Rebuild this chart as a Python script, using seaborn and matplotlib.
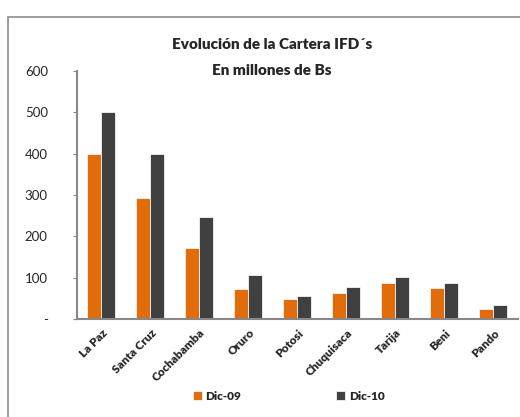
import pandas as pd
import matplotlib.pyplot as plt
import seaborn as sns
from matplotlib.patches import Rectangle

# data (millones de Bs)
departamentos = ['La Paz', 'Santa Cruz', 'Cochabamba', 'Oruro', 'Potosi',
                 'Chuquisaca', 'Tarija', 'Beni', 'Pando']
dic09 = [400, 293, 171, 72, 48, 62, 87, 74, 24]
dic10 = [501, 400, 247, 107, 55, 77, 102, 87, 33]
periodos = ['Dic-09', 'Dic-10']
colores = ['#E36C0A', '#404040']

df = pd.DataFrame({'Departamento': departamentos * 2,
                   'Periodo': [periodos[0]] * 9 + [periodos[1]] * 9,
                   'Valor': dic09 + dic10})

sns.set_style('white')
plt.rcParams['font.family'] = ['Lato', 'DejaVu Sans']

fig = plt.figure(figsize=(5.2, 4.17), dpi=100)
ax = fig.add_axes([0.148, 0.235, 0.848, 0.595])

sns.barplot(data=df, x='Departamento', y='Valor', hue='Periodo',
            palette=colores, saturation=1, width=0.57, edgecolor='#f4f4f4',
            linewidth=0.6, ax=ax)

ax.set_ylim(0, 600)
ax.set_yticks([0, 100, 200, 300, 400, 500, 600])
ax.set_yticklabels(['-', '100', '200', '300', '400', '500', '600'], fontsize=9.5)
ax.set_xlim(-0.5, 8.5)
ax.set_xlabel('')
ax.set_ylabel('')
plt.setp(ax.get_xticklabels(), rotation=45, ha='right', rotation_mode='anchor',
         fontsize=8.5, fontweight='heavy')
ax.tick_params(axis='x', length=0, pad=6)
ax.tick_params(axis='y', length=3, width=0.8, color='#888888', left=True,
               direction='out', pad=18)
sns.despine(ax=ax)
for s in ['left', 'bottom']:
    ax.spines[s].set_color('#888888')
    ax.spines[s].set_linewidth(1.5)

ax.legend_.remove()
handles, labels = ax.get_legend_handles_labels()
fig.legend(handles, labels, loc='center', bbox_to_anchor=(0.555, 0.05), ncol=2,
           frameon=False, columnspacing=8, handlelength=0.8, handleheight=0.8,
           handletextpad=0.3, prop={'size': 8.5, 'weight': 'heavy'})

fig.text(0.523, 0.893, 'Evolución de la Cartera IFD´s', ha='center', va='center',
         fontsize=11, fontweight='heavy')
fig.text(0.523, 0.832, 'En millones de Bs', ha='center', va='center',
         fontsize=11, fontweight='heavy')

# outer chart frame
fig.patches.append(Rectangle((8 / 520, -0.1), 1.1, 1 - 17 / 417 + 0.1,
                             transform=fig.transFigure, fill=False,
                             edgecolor='#8c8c8c', linewidth=1.2))

fig.savefig('out.png', dpi=100)
